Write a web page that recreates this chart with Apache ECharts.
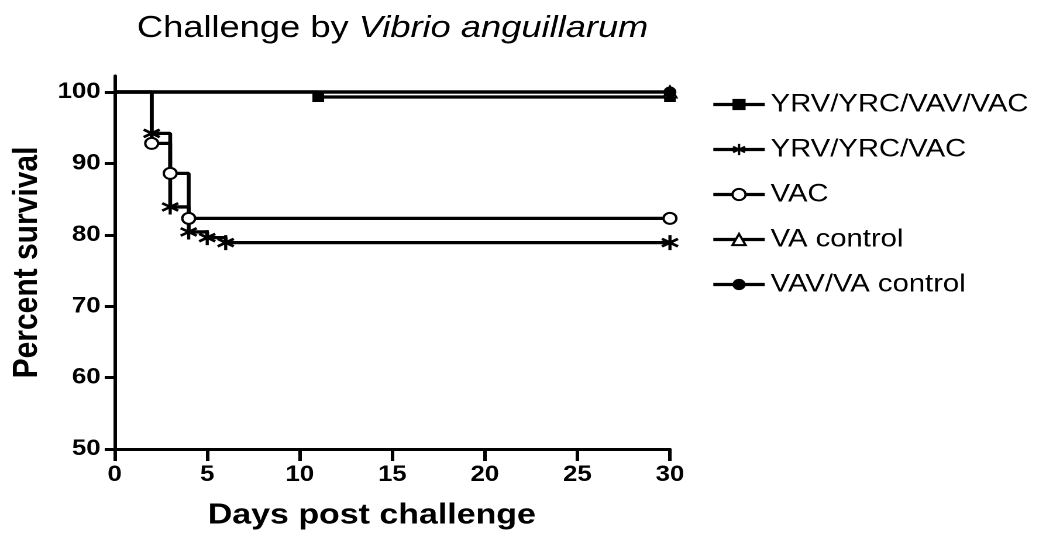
<!DOCTYPE html>
<html>
<head>
<meta charset="utf-8">
<script src="https://cdn.jsdelivr.net/npm/echarts@6/dist/echarts.min.js"></script>
<style>
    html, body { margin: 0; padding: 0; background: #fff; overflow: hidden; }
    /* the original figure is stretched sideways, so draw narrower and widen it */
    #chart { width: 894px; height: 540px; transform: scaleX(1.17); transform-origin: 0 0; }
</style>
</head>
<body>
<div id="chart"></div>
<script>
// survival data (days post challenge, percent survival)
var seriesNames = ["YRV/YRC/VAV/VAC", "YRV/YRC/VAC", "VAC", "VA control", "VAV/VA control"];

var squareDays = [0, 11, 30];
var squareVals = [100, 99.3, 99.3];

var starDays = [0, 2, 3, 4, 5, 6, 30];
var starVals = [100, 94.2, 83.9, 80.4, 79.6, 78.9, 78.9];

var circleDays = [0, 2, 3, 4, 30];
var circleVals = [100, 92.8, 88.6, 82.3, 82.3];

var vaDays = [0, 30];
var vaVals = [100, 100];

var vavDays = [0, 30];
var vavVals = [100, 100];

var xTicks = [0, 5, 10, 15, 20, 25, 30];
var yTicks = [50, 60, 70, 80, 90, 100];

var font = "Liberation Sans, Arial, sans-serif";

// asterisk made of three bars
var starPath = "path://M-1.7,-10 L1.7,-10 L1.7,10 L-1.7,10 Z " +
    "M-9.51,-3.53 L-7.81,-6.47 L9.51,3.53 L7.81,6.47 Z " +
    "M-7.81,6.47 L-9.51,3.53 L7.81,-6.47 L9.51,-3.53 Z";

function toPoints(days, vals) {
    // no symbol on the starting point at day 0
    return days.map(function (d, i) {
        var p = { value: [d, vals[i]] };
        if (i === 0) p.symbol = "none";
        return p;
    });
}

function makeSeries(name, days, vals, symbol, size, fill, border) {
    return {
        name: name,
        type: "line",
        step: "end",
        clip: false,
        showAllSymbol: true,
        symbol: symbol,
        symbolSize: size,
        lineStyle: { color: "#000", width: 3.3 },
        itemStyle: { color: fill, borderColor: "#000", borderWidth: border },
        emphasis: { disabled: true },
        animation: false,
        data: toPoints(days, vals)
    };
}

var chart = echarts.init(document.getElementById("chart"), null, { devicePixelRatio: 2 });

chart.setOption({
    backgroundColor: "#fff",
    title: {
        text: "{a|Challenge by }{b|Vibrio anguillarum}",
        left: 112,
        top: 8,
        textStyle: {
            fontWeight: "normal",
            rich: {
                a: { fontFamily: font, fontSize: 31, fontWeight: "normal", color: "#000" },
                b: { fontFamily: font, fontSize: 31, fontWeight: "normal", fontStyle: "italic", color: "#000" }
            }
        }
    },
    legend: {
        orient: "vertical",
        left: 603,
        top: 87,
        itemWidth: 44,
        itemHeight: 14,
        itemGap: 20,
        lineStyle: { width: 3.3 },
        textStyle: { fontFamily: font, fontSize: 25, color: "#000", lineHeight: 25 },
        data: seriesNames
    },
    grid: {
        left: 96.5,
        right: 321.4,
        top: 76,
        bottom: 91
    },
    xAxis: {
        type: "value",
        min: 0,
        max: 30,
        interval: 5,
        name: "Days post challenge",
        nameLocation: "middle",
        nameGap: 52,
        nameTextStyle: {
            fontFamily: font, fontSize: 29, fontWeight: "bold", color: "#000",
            padding: [0, 35, 0, 0]
        },
        axisLine: { onZero: false, lineStyle: { color: "#000", width: 3 } },
        axisTick: { length: 12, lineStyle: { color: "#000", width: 3 }, customValues: xTicks },
        axisLabel: {
            margin: 15,
            fontFamily: font, fontSize: 22, fontWeight: "bold", color: "#000",
            customValues: xTicks
        },
        splitLine: { show: false }
    },
    yAxis: {
        type: "value",
        min: 50,
        max: 102.24,
        name: "Percent survival",
        nameLocation: "middle",
        nameGap: 60,
        nameTextStyle: { fontFamily: font, fontSize: 30, fontWeight: "bold", color: "#000" },
        axisLine: { show: true, onZero: false, lineStyle: { color: "#000", width: 3 } },
        axisTick: { show: true, length: 8.5, lineStyle: { color: "#000", width: 3 }, customValues: yTicks },
        axisLabel: {
            margin: 12,
            fontFamily: font, fontSize: 22, fontWeight: "bold", color: "#000",
            customValues: yTicks
        },
        splitLine: { show: false }
    },
    series: [
        makeSeries(seriesNames[0], squareDays, squareVals, "rect", 10, "#000", 0),
        makeSeries(seriesNames[1], starDays, starVals, starPath, 15, "#000", 0),
        makeSeries(seriesNames[2], circleDays, circleVals, "circle", 11, "#fff", 2),
        makeSeries(seriesNames[3], vaDays, vaVals, "triangle", 11, "#fff", 2),
        makeSeries(seriesNames[4], vavDays, vavVals, "circle", 11, "#000", 0)
    ]
});

window.addEventListener("resize", function () {
    chart.resize();
});
</script>
</body>
</html>
